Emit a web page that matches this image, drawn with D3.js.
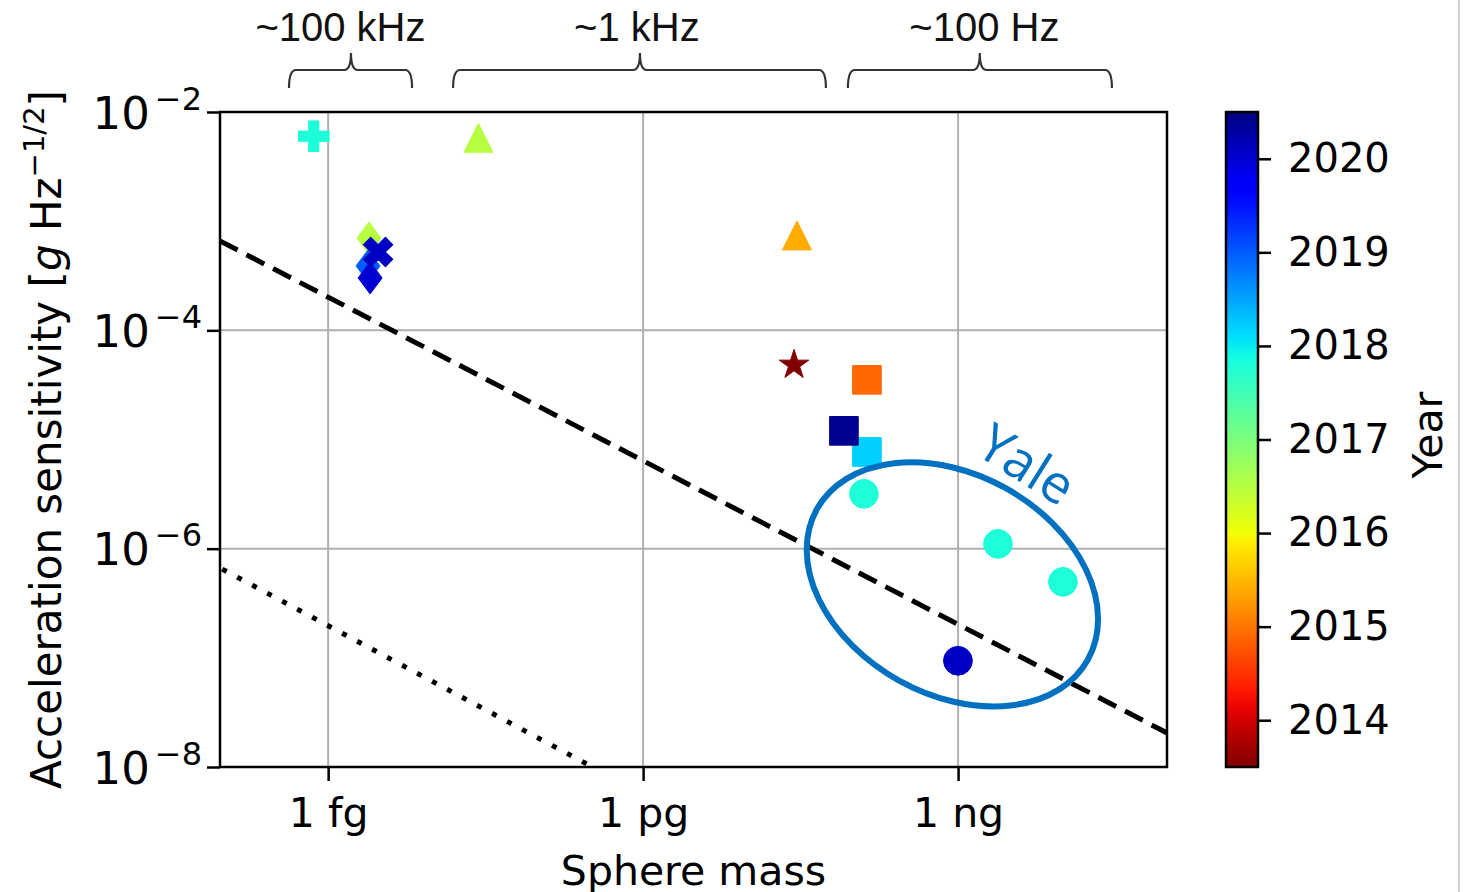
<!DOCTYPE html>
<html>
<head>
<meta charset="utf-8">
<script src="https://cdn.jsdelivr.net/npm/d3@7"></script>
<style>
  body { margin: 0; background: #fff; }
  text { font-family: "DejaVu Sans", sans-serif; }
</style>
</head>
<body>
<script>
// ---- data (mass in grams, sensitivity in g/sqrt(Hz)) ----
var markerShape = ["plus", "triangle", "diamond", "diamond", "diamond", "x",
    "triangle", "star", "square", "square", "square",
    "circle", "circle", "circle", "circle"];
var sphereMass = [7.3e-16, 2.7e-14, 2.45e-15, 2.40e-15, 2.51e-15, 2.99e-15,
    2.92e-11, 2.74e-11, 1.355e-10, 1.355e-10, 8.18e-11,
    1.268e-10, 2.40e-9, 9.97e-9, 9.97e-10];
var sensitivity = [6.0e-3, 5.8e-3, 7.0e-4, 3.89e-4, 3.02e-4, 5.22e-4,
    7.40e-4, 4.82e-5, 3.52e-5, 7.69e-6, 1.20e-5,
    3.18e-6, 1.107e-6, 4.97e-7, 9.40e-8];
var pubYear = [2017.8, 2016.5, 2016.5, 2019.0, 2020.0, 2020.1,
    2015.4, 2013.5, 2014.9, 2018.2, 2020.4,
    2017.8, 2017.8, 2017.8, 2020.1];

// reference lines (two end points each)
var dashedMass = [9.3e-17, 9.8e-8];
var dashedSens = [6.6e-4, 2.05e-8];
var dottedMass = [9.8e-17, 3.3e-13];
var dottedSens = [6.5e-7, 1.0e-8];

// tick labels
var massTicks = [1e-15, 1e-12, 1e-9];
var massLabels = ["1 fg", "1 pg", "1 ng"];
var sensTicks = [1e-8, 1e-6, 1e-4, 1e-2];
var sensExp = ["\u22128", "\u22126", "\u22124", "\u22122"];
var yearTicks = [2014, 2015, 2016, 2017, 2018, 2019, 2020];

// frequency bands on top
var bandLabels = ["~100 kHz", "~1 kHz", "~100 Hz"];
var bandStart = [4.24e-16, 1.55e-14, 8.93e-11];
var bandEnd = [6.30e-15, 5.51e-11, 2.92e-8];
var bandMid = [1.65e-15, 9.33e-13, 1.61e-9];
var bandLabelMass = [1.31e-15, 8.73e-13, 1.78e-9];

// Yale annotation (centre of ellipse and of the label)
var yaleMass = [8.83e-10, 4.62e-9];
var yaleSens = [4.71e-7, 6.11e-6];

// ---- layout ----
var W = 1465, H = 892;
var plot = {left: 220, right: 1167, top: 112, bottom: 767};
var cbar = {left: 1226, right: 1258};

var svg = d3.select("body").append("svg")
    .attr("width", W).attr("height", H);

var x = d3.scaleLog()
    .domain([Math.pow(10, -16.03), Math.pow(10, -7.01)])
    .range([plot.left, plot.right]);
var y = d3.scaleLog().domain([1e-8, 1e-2]).range([plot.bottom, plot.top]);
var yc = d3.scaleLinear().domain([2013.5, 2020.5])
    .range([plot.bottom, plot.top]);

// matplotlib "jet", reversed so recent years are blue
var jr = d3.scaleLinear().domain([0, 0.35, 0.66, 0.89, 1])
    .range([0, 0, 1, 1, 0.5]).clamp(true);
var jg = d3.scaleLinear().domain([0, 0.125, 0.375, 0.64, 0.91, 1])
    .range([0, 0, 1, 1, 0, 0]).clamp(true);
var jb = d3.scaleLinear().domain([0, 0.11, 0.34, 0.65, 1])
    .range([0.5, 1, 1, 0, 0]).clamp(true);
var tYear = d3.scaleLinear().domain([2020.5, 2013.5]).range([0, 1]).clamp(true);
function jet(yr) {
    var t = tYear(yr);
    return d3.rgb(jr(t) * 255, jg(t) * 255, jb(t) * 255).formatHex();
}

// faint border on the right of the original image
svg.append("line")
    .attr("x1", 1459).attr("x2", 1459).attr("y1", 0).attr("y2", H)
    .attr("stroke", "#d4d4d4").attr("stroke-width", 2);

// grid
svg.append("g").selectAll("line").data(massTicks).enter().append("line")
    .attr("x1", function(d) { return x(d); })
    .attr("x2", function(d) { return x(d); })
    .attr("y1", plot.top).attr("y2", plot.bottom)
    .attr("stroke", "#b0b0b0").attr("stroke-width", 2);
svg.append("g").selectAll("line").data(sensTicks).enter().append("line")
    .attr("y1", function(d) { return y(d); })
    .attr("y2", function(d) { return y(d); })
    .attr("x1", plot.left).attr("x2", plot.right)
    .attr("stroke", "#b0b0b0").attr("stroke-width", 2);

// clip for reference lines
svg.append("clipPath").attr("id", "clip").append("rect")
    .attr("x", plot.left).attr("y", plot.top)
    .attr("width", plot.right - plot.left)
    .attr("height", plot.bottom - plot.top);

var line = d3.line()
    .x(function(d) { return x(d[0]); })
    .y(function(d) { return y(d[1]); });

svg.append("path")
    .attr("d", line(d3.zip(dashedMass, dashedSens)))
    .attr("clip-path", "url(#clip)")
    .attr("fill", "none").attr("stroke", "#000")
    .attr("stroke-width", 5).attr("stroke-dasharray", "20,10");
svg.append("path")
    .attr("d", line(d3.zip(dottedMass, dottedSens)))
    .attr("clip-path", "url(#clip)")
    .attr("fill", "none").attr("stroke", "#000")
    .attr("stroke-width", 5).attr("stroke-dasharray", "5,12");

// marker shapes
function markerPath(shape) {
    switch (shape) {
        case "circle": return d3.symbol(d3.symbolCircle, 650)();
        case "square": return d3.symbol(d3.symbolSquare, 820)();
        case "plus": return d3.symbol(d3.symbolCross, 520)();
        case "x": return d3.symbol(d3.symbolCross, 540)();
        case "star": return d3.symbol(d3.symbolStar, 270)();
        case "triangle": return "M0,-14.5L14.5,14.5L-14.5,14.5Z";
        case "diamond": return "M0,-16L12,0L0,16L-12,0Z";
    }
}

var pts = d3.range(markerShape.length).map(function(i) {
    return {shape: markerShape[i], m: sphereMass[i], s: sensitivity[i],
        yr: pubYear[i]};
});

svg.append("g").selectAll("path").data(pts).enter().append("path")
    .attr("d", function(d) { return markerPath(d.shape); })
    .attr("transform", function(d) {
        return "translate(" + x(d.m) + "," + y(d.s) + ")" +
            (d.shape === "x" ? " rotate(45)" : "");
    })
    .attr("fill", function(d) { return jet(d.yr); })
    .attr("stroke", function(d) { return jet(d.yr); })
    .attr("stroke-width", 1);

// Yale ellipse and label
var ex = x(yaleMass[0]), ey = y(yaleSens[0]);
svg.append("ellipse")
    .attr("cx", ex).attr("cy", ey).attr("rx", 155).attr("ry", 110)
    .attr("transform", "rotate(29," + ex + "," + ey + ")")
    .attr("fill", "none").attr("stroke", "#0070c0").attr("stroke-width", 6);
var lx = x(yaleMass[1]), ly = y(yaleSens[1]);
svg.append("text")
    .attr("x", lx).attr("y", ly)
    .attr("transform", "rotate(32," + lx + "," + ly + ")")
    .attr("text-anchor", "middle").attr("dominant-baseline", "central")
    .style("font-family", "'Open Sans', sans-serif")
    .attr("font-size", 53).attr("fill", "#0070c0")
    .text("Yale");

// frame
svg.append("rect")
    .attr("x", plot.left).attr("y", plot.top)
    .attr("width", plot.right - plot.left)
    .attr("height", plot.bottom - plot.top)
    .attr("fill", "none").attr("stroke", "#000").attr("stroke-width", 2.5);

// x axis
var xAxis = d3.axisBottom(x).tickValues(massTicks)
    .tickFormat(function(d, i) { return massLabels[i]; })
    .tickSize(14).tickPadding(17);
var gx = svg.append("g")
    .attr("transform", "translate(0," + plot.bottom + ")")
    .call(xAxis);
gx.select(".domain").remove();
gx.selectAll(".tick line").attr("stroke", "#000").attr("stroke-width", 2.5);
gx.selectAll(".tick text").attr("font-size", 41)
    .style("font-family", "'DejaVu Sans', sans-serif").attr("fill", "#000");

svg.append("text")
    .attr("x", (plot.left + plot.right) / 2).attr("y", 885)
    .attr("text-anchor", "middle").attr("font-size", 41)
    .text("Sphere mass");

// y axis
var yAxis = d3.axisLeft(y).tickValues(sensTicks).tickFormat("")
    .tickSize(13);
var gy = svg.append("g")
    .attr("transform", "translate(" + plot.left + ",0)")
    .call(yAxis);
gy.select(".domain").remove();
gy.selectAll(".tick line").attr("stroke", "#000").attr("stroke-width", 2.5);
gy.selectAll(".tick").each(function(d, i) {
    var t = d3.select(this).append("text")
        .attr("x", -18).attr("y", 16)
        .attr("text-anchor", "end").attr("fill", "#000")
        .style("font-family", "'DejaVu Sans', sans-serif")
        .attr("font-size", 45);
    t.append("tspan").text("10");
    t.append("tspan").attr("dx", 5).attr("dy", -19).attr("font-size", 32)
        .text(sensExp[i]);
});

var ylab = svg.append("text")
    .attr("transform", "translate(61," + (plot.top + plot.bottom) / 2 +
        ") rotate(-90)")
    .attr("text-anchor", "middle").attr("font-size", 42);
ylab.append("tspan").text("Acceleration sensitivity [");
ylab.append("tspan").attr("font-style", "italic").text("g");
ylab.append("tspan").text(" Hz");
ylab.append("tspan").attr("dy", -17).attr("font-size", 29)
    .text("\u22121/2");
ylab.append("tspan").attr("dy", 17).text("]");

// frequency brackets on top
var yh = 70, yb = 88, yt = 53;
svg.append("g").selectAll("path").data(d3.range(bandLabels.length))
    .enter().append("path")
    .attr("d", function(i) {
        var x0 = x(bandStart[i]), x1 = x(bandEnd[i]), xm = x(bandMid[i]);
        var r = 7;
        return "M" + x0 + "," + yb +
            " Q" + x0 + "," + yh + " " + (x0 + r) + "," + yh +
            " L" + (xm - r) + "," + yh +
            " Q" + xm + "," + yh + " " + xm + "," + yt +
            " Q" + xm + "," + yh + " " + (xm + r) + "," + yh +
            " L" + (x1 - r) + "," + yh +
            " Q" + x1 + "," + yh + " " + x1 + "," + yb;
    })
    .attr("fill", "none").attr("stroke", "#333").attr("stroke-width", 2.2);

svg.append("g").selectAll("text").data(bandLabels).enter().append("text")
    .attr("x", function(d, i) { return x(bandLabelMass[i]); })
    .attr("y", 41)
    .attr("text-anchor", "middle")
    .style("font-family", "'Liberation Sans', Arial, sans-serif")
    .attr("font-size", 40).attr("fill", "#111")
    .text(function(d) { return d; });

// colour bar
var grad = svg.append("defs").append("linearGradient")
    .attr("id", "jet").attr("x1", 0).attr("y1", 1).attr("x2", 0).attr("y2", 0);
grad.selectAll("stop").data(d3.range(0, 1.0001, 0.02)).enter().append("stop")
    .attr("offset", function(d) { return d; })
    .attr("stop-color", function(d) { return jet(yc.invert(
        plot.bottom - d * (plot.bottom - plot.top))); });

svg.append("rect")
    .attr("x", cbar.left).attr("y", plot.top)
    .attr("width", cbar.right - cbar.left)
    .attr("height", plot.bottom - plot.top)
    .attr("fill", "url(#jet)").attr("stroke", "#000").attr("stroke-width", 2.5);

var cAxis = d3.axisRight(yc).tickValues(yearTicks).tickFormat(d3.format("d"))
    .tickSize(13).tickPadding(17);
var gc = svg.append("g")
    .attr("transform", "translate(" + cbar.right + ",0)")
    .call(cAxis);
gc.select(".domain").remove();
gc.selectAll(".tick line").attr("stroke", "#000").attr("stroke-width", 2.5);
gc.selectAll(".tick text").attr("font-size", 40)
    .style("font-family", "'DejaVu Sans', sans-serif").attr("fill", "#000");

svg.append("text")
    .attr("transform", "translate(1442," + 435 + ") rotate(-90)")
    .attr("text-anchor", "middle").attr("font-size", 41)
    .text("Year");
</script>
</body>
</html>
